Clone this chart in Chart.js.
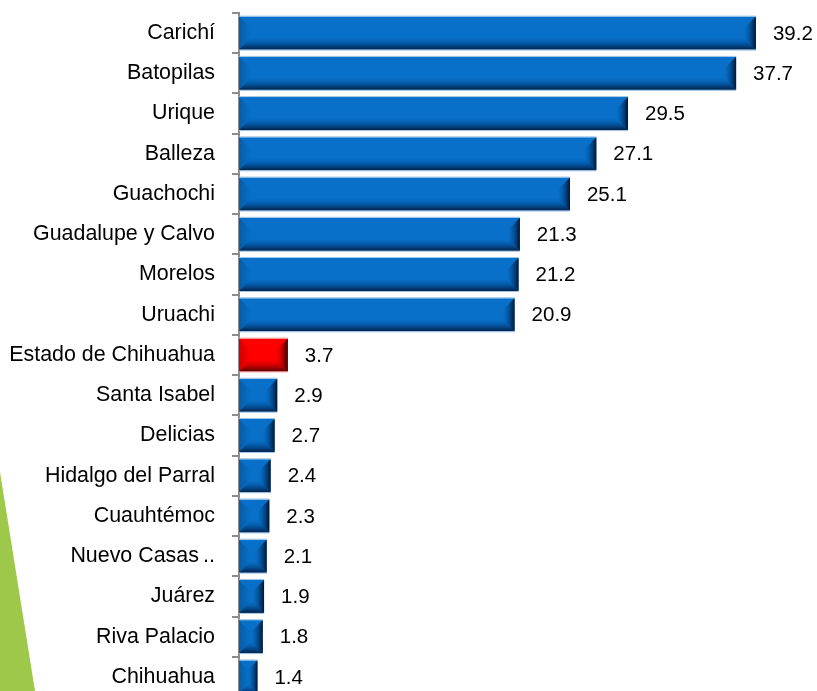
<!DOCTYPE html>
<html>
<head>
<meta charset="utf-8">
<script src="https://cdn.jsdelivr.net/npm/chart.js@4/dist/chart.umd.min.js"></script>
<style>
  html, body { margin: 0; padding: 0; background: #fff; overflow: hidden; }
  #wrap { position: absolute; left: 0; top: 0; width: 817px; height: 705px; }
</style>
</head>
<body>
<div id="wrap"><canvas id="chart" width="817" height="705"></canvas></div>
<script>
const categories = ["Carichí", "Batopilas", "Urique", "Balleza", "Guachochi", "Guadalupe y Calvo",
  "Morelos", "Uruachi", "Estado de Chihuahua", "Santa Isabel", "Delicias", "Hidalgo del Parral",
  "Cuauhtémoc", "Nuevo Casas Grandes", "Juárez", "Riva Palacio", "Chihuahua"];
const values = [39.2, 37.7, 29.5, 27.1, 25.1, 21.3, 21.2, 20.9, 3.7, 2.9, 2.7, 2.4, 2.3, 2.1, 1.9, 1.8, 1.4];
const highlight = "Estado de Chihuahua";

const FONT = "'Liberation Sans', Arial, sans-serif";

// the original cuts the long name
function shortLabel(s) {
    return s === "Nuevo Casas Grandes" ? "Nuevo Casas\u2009.." : s;
}

// green slanted strip bottom-left
const greenShape = {
    id: 'greenShape',
    beforeDraw(chart) {
        const c = chart.ctx;
        c.save();
        c.fillStyle = '#9dc84a';
        c.beginPath();
        c.moveTo(0, 472);
        c.lineTo(35, 691);
        c.lineTo(0, 691);
        c.closePath();
        c.fill();
        c.restore();
    }
};

// bevel look on the bars + value labels
const bevelBars = {
    id: 'bevelBars',
    afterDatasetsDraw(chart) {
        const c = chart.ctx;
        const meta = chart.getDatasetMeta(0);
        meta.data.forEach((bar, i) => {
            const red = categories[i] === highlight;
            const left = bar.base, right = bar.x;
            const top = bar.y - bar.height / 2, bottom = bar.y + bar.height / 2;
            const b = Math.min(12, (right - left) / 2, bar.height / 2);
            const dark = red ? 'rgba(70,0,0,0.92)' : 'rgba(0,25,60,0.92)';
            const clear = red ? 'rgba(200,0,0,0)' : 'rgba(0,80,160,0)';
            c.save();
            // bottom
            let g = c.createLinearGradient(0, bottom - b, 0, bottom);
            g.addColorStop(0, clear);
            g.addColorStop(1, dark);
            c.fillStyle = g;
            c.beginPath();
            c.moveTo(left, bottom); c.lineTo(right, bottom);
            c.lineTo(right - b, bottom - b); c.lineTo(left + b, bottom - b);
            c.closePath(); c.fill();
            // right end
            g = c.createLinearGradient(right - b, 0, right, 0);
            g.addColorStop(0, clear);
            g.addColorStop(1, red ? 'rgba(40,0,0,0.95)' : 'rgba(0,15,40,0.95)');
            c.fillStyle = g;
            c.beginPath();
            c.moveTo(right, top); c.lineTo(right, bottom);
            c.lineTo(right - b, bottom - b); c.lineTo(right - b, top + b);
            c.closePath(); c.fill();
            // left end, slightly darker
            g = c.createLinearGradient(left, 0, left + b, 0);
            g.addColorStop(0, 'rgba(0,0,0,0.18)');
            g.addColorStop(1, 'rgba(0,0,0,0)');
            c.fillStyle = g;
            c.beginPath();
            c.moveTo(left, top); c.lineTo(left + b, top + b);
            c.lineTo(left + b, bottom - b); c.lineTo(left, bottom);
            c.closePath(); c.fill();
            // thin light edges
            c.fillStyle = red ? '#ffb0b0' : '#9cc4e8';
            c.fillRect(left, top - 1, right - left, 1);
            c.fillRect(left, bottom, right - left, 1);
            // value
            c.fillStyle = '#000';
            c.font = '20.5px ' + FONT;
            c.textAlign = 'left';
            c.textBaseline = 'middle';
            c.fillText(values[i].toFixed(1), right + 17, bar.y + 1);
            c.restore();
        });
    }
};

new Chart(document.getElementById('chart'), {
    type: 'bar',
    data: {
        labels: categories,
        datasets: [{
            data: values,
            backgroundColor: categories.map(c => c === highlight ? '#ff0000' : '#0870c8'),
            borderWidth: 0,
            barPercentage: 0.82,
            categoryPercentage: 1
        }]
    },
    options: {
        indexAxis: 'y',
        responsive: false,
        animation: false,
        layout: { padding: { top: 13, bottom: 8, left: 0, right: 11 } },
        plugins: { legend: { display: false }, tooltip: { enabled: false } },
        scales: {
            x: { display: false, min: 0, max: 43 },
            y: {
                afterFit(scale) {
                    scale.width = 239;
                    scale.paddingTop = 0;
                    scale.paddingBottom = 0;
                },
                border: { display: true, color: '#8c8c8c', width: 2 },
                grid: { display: true, drawOnChartArea: false, drawTicks: true, tickLength: 7, color: '#8c8c8c', lineWidth: 2 },
                ticks: {
                    padding: 17,
                    color: '#000',
                    font: { family: FONT, size: 21.4 },
                    callback: function(v, i) { return shortLabel(categories[i]); }
                }
            }
        }
    },
    plugins: [greenShape, bevelBars]
});
</script>
</body>
</html>
